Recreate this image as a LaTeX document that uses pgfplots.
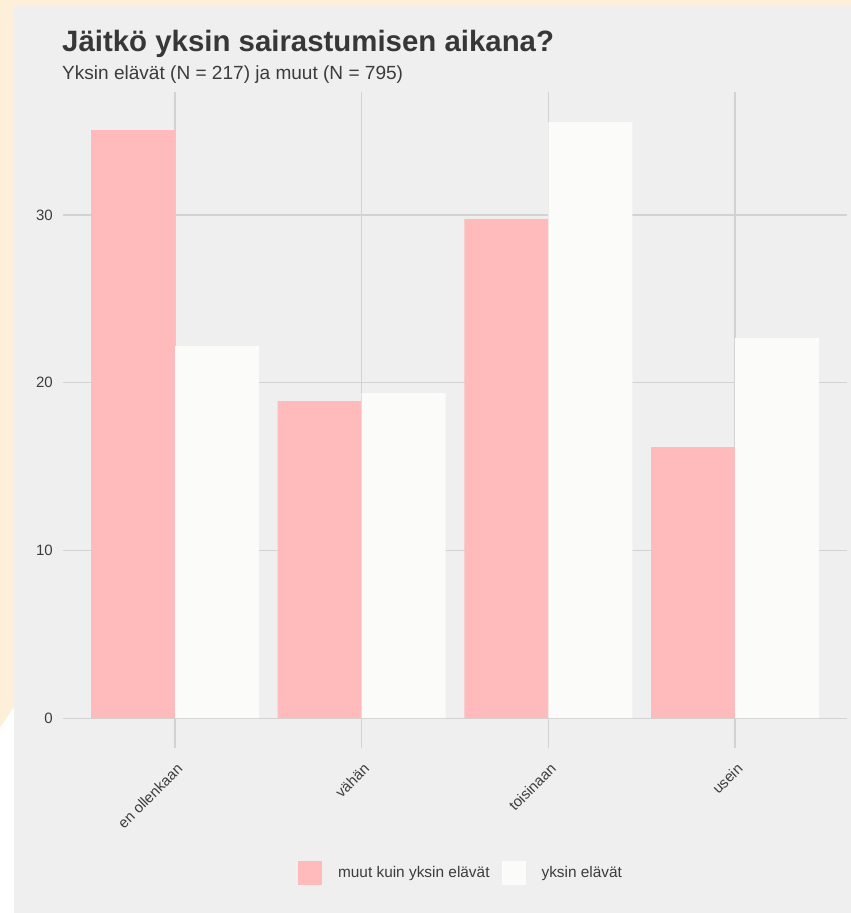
\documentclass[border=0pt]{standalone}
\usepackage{fontspec}
\setmainfont{Liberation Sans}
\usepackage{pgfplots}
\pgfplotsset{compat=1.18}
\definecolor{cream}{RGB}{254,239,216}
\definecolor{panel}{RGB}{239,239,239}
\definecolor{pinkbar}{RGB}{255,187,187}
\definecolor{whitebar}{RGB}{251,251,249}
\definecolor{gridgray}{RGB}{210,210,210}
\definecolor{labgray}{RGB}{60,60,60}
\definecolor{titlegray}{RGB}{55,55,55}
\begin{document}
\begin{tikzpicture}[x=1pt,y=1pt]
\path[use as bounding box] (0,0) rectangle (851,913);
\fill[cream] (0,0) rectangle (851,913);
\fill[white] (0,0) -- (14,0) -- (14,206) -- (0,185) -- cycle;
\fill[panel] (14,0) rectangle (851,907);
\node[anchor=base west, inner sep=0pt, text=titlegray, font=\bfseries\fontsize{29.4}{33}\selectfont] at (62,861) {Jäitkö yksin sairastumisen aikana?};
\node[anchor=base west, inner sep=0pt, text=labgray, font=\fontsize{19.05}{22}\selectfont] at (62,833) {Yksin elävät (N = 217) ja muut (N = 795)};
\begin{axis}[
  at={(63pt,165pt)}, anchor=south west,
  scale only axis, width=784pt, height=656pt,
  xmin=-0.6, xmax=3.6, ymin=-1.78, ymax=37.33,
  xtick={0,1,2,3},
  xticklabels={en ollenkaan, vähän, toisinaan, usein},
  ytick={0,10,20,30},
  grid=major,
  major grid style={draw=gridgray, line width=1.2pt},
  axis line style={draw=none},
  major tick length=0pt,
  /pgf/number format/assume math mode=true,
  tick label style={font=\fontsize{15}{17}\selectfont, text=labgray},
  x tick label style={font=\fontsize{14.8}{17}\selectfont, yshift=-14pt, xshift=1pt, rotate=45, anchor=north east, inner sep=0pt},
  y tick label style={inner sep=0pt, xshift=-10pt},
  legend columns=2,
  legend style={at={(0.5077,-0.1905)}, anchor=center, draw=none, fill=none,
    font=\fontsize{15.4}{17}\selectfont, text=labgray,
    /tikz/every odd column/.append style={column sep=14pt},
    /tikz/every even column/.append style={column sep=10pt}},
]
\addplot[ybar, bar width=0.45, bar shift=-0.225, fill=pinkbar, draw=none,
  legend image code/.code={\fill[pinkbar] (0pt,-12pt) rectangle (24pt,12pt);}]
  coordinates {(0,35.06) (1,18.90) (2,29.76) (3,16.16)};
\addlegendentry{muut kuin yksin elävät}
\addplot[ybar, bar width=0.45, bar shift=0.225, fill=whitebar, draw=none,
  legend image code/.code={\fill[whitebar] (0pt,-12pt) rectangle (24pt,12pt);}]
  coordinates {(0,22.18) (1,19.38) (2,35.54) (3,22.66)};
\addlegendentry{yksin elävät}
\end{axis}
\end{tikzpicture}
\end{document}
